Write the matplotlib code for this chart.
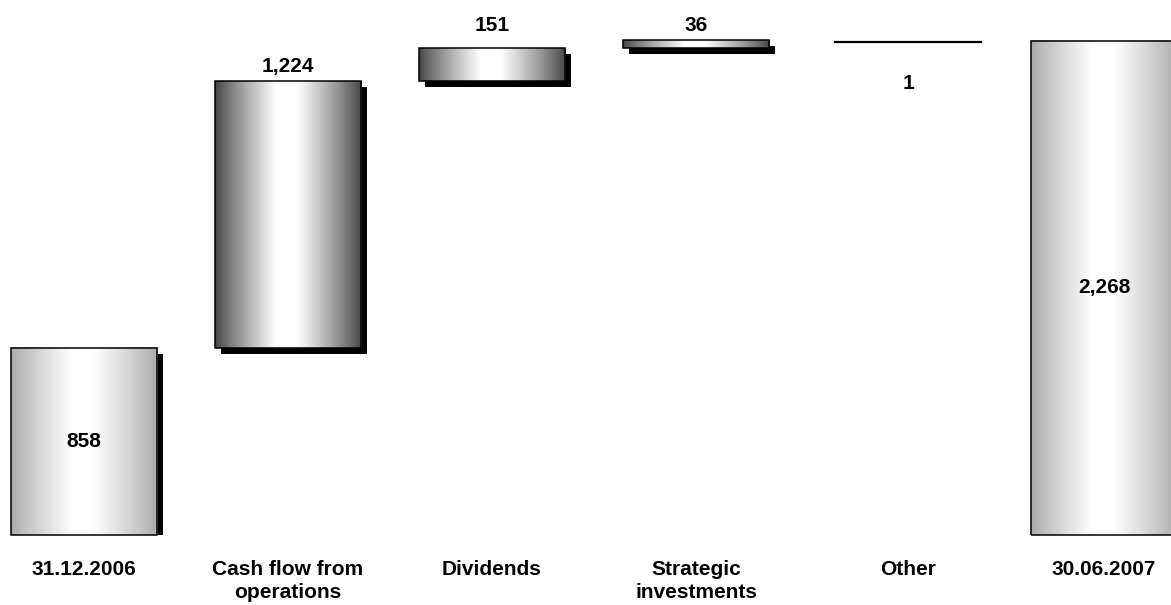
import numpy as np
import matplotlib
matplotlib.use("Agg")
import matplotlib.pyplot as plt
from matplotlib.patches import Rectangle

plt.rcParams['font.family'] = ['Liberation Sans', 'DejaVu Sans']

categories = ['31.12.2006', 'Cash flow from\noperations', 'Dividends',
              'Strategic\ninvestments', 'Other', '30.06.2007']
values = [858, 1224, 151, 36, -1, 2268]
kinds = ['total', 'step', 'step', 'step', 'step', 'total']

# layout
xpos = [0, 1, 2, 3, 4.04, 5]
bar_w = 0.716
label_off = [None, 15, 23, 15, -43, None]   # px above (+) / below (-) the bar top
XLIM = (-0.4118, 5.3284)
YLIM = (-319.6, 2454.6)
W, H = 1171, 605


def gradient(edge, n=256):
    t = np.linspace(0, 1, n)
    g = np.interp(t, [0, 0.42, 0.56, 1], [0, 1, 1, 0]) ** 0.85
    g = edge + (1 - edge) * g
    return np.dstack([g, g, g])


fig = plt.figure(figsize=(W / 100, H / 100), dpi=100)
ax = fig.add_axes([0, 0, 1, 1])
ax.set_xlim(*XLIM)
ax.set_ylim(*YLIM)
ax.axis('off')

# drop shadow offset: 6 px right and down, in data units
sdx = 6 * (XLIM[1] - XLIM[0]) / W
sdy = 6 * (YLIM[1] - YLIM[0]) / H

level = 0
for x, v, k, off in zip(xpos, values, kinds, label_off):
    if k == 'total':
        lo, hi = 0, v
        level = v
    else:
        lo, hi = sorted([level, level + v])
        level += v
    x0 = x - bar_w / 2
    txt = f"{abs(v):,}"

    if k == 'step' and abs(v) < 5:
        # too small for a bar: just a rule at the new level
        ax.plot([x0, x0 + bar_w], [level - 8, level - 8], color='black', lw=1.6)
        ax.annotate(txt, (x, level), xytext=(0, off), textcoords='offset pixels',
                    ha='center', va='center', fontsize=15, fontweight='bold')
        continue

    s_lo = max(0, lo - sdy)
    ax.add_patch(Rectangle((x0 + sdx, s_lo), bar_w, hi - sdy - s_lo,
                           facecolor='black', edgecolor='none', zorder=1))

    edge = 0.66 if k == 'total' else 0.26
    ax.imshow(gradient(edge), extent=(x0, x0 + bar_w, lo, hi), aspect='auto',
              interpolation='bilinear', zorder=2)
    ax.add_patch(Rectangle((x0, lo), bar_w, hi - lo, facecolor='none',
                           edgecolor='black', lw=1.1, zorder=3))

    if k == 'total':
        ax.text(x, (lo + hi) / 2, txt, ha='center', va='center',
                fontsize=15, fontweight='bold', zorder=4)
    else:
        ax.annotate(txt, (x, hi), xytext=(0, off), textcoords='offset pixels',
                    ha='center', va='center', fontsize=15, fontweight='bold')

for x, c in zip(xpos, categories):
    ax.annotate(c, (x, 0), xytext=(0, -25), textcoords='offset pixels',
                ha='center', va='top', fontsize=15, fontweight='bold',
                linespacing=1.25)

ax.set_xlim(*XLIM)
ax.set_ylim(*YLIM)

fig.savefig('out.png', dpi=100)
